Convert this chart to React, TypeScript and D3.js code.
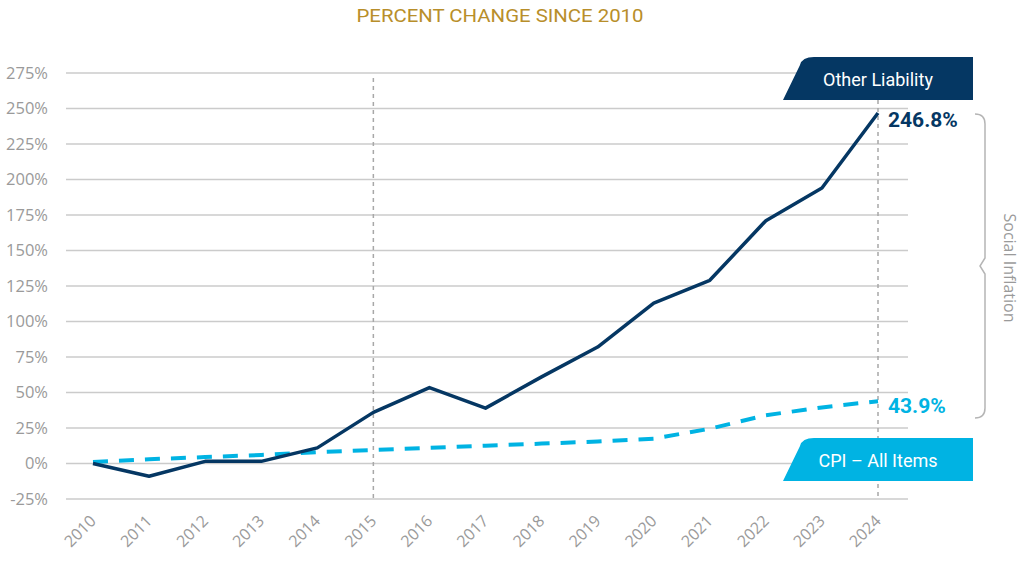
import React from "react";
import * as d3 from "d3";

const years = ["2010","2011","2012","2013","2014","2015","2016","2017","2018","2019","2020","2021","2022","2023","2024"];
const otherLiability = [0, -9, 1.5, 1.5, 11, 36, 53.5, 39, 61, 82, 113, 129, 171, 194, 246.8];
const cpi = [1, 3, 4.5, 6, 8, 9.5, 11, 12.5, 14, 15.5, 17.5, 24.5, 34, 39.5, 43.9];
const yTicks = [-25, 0, 25, 50, 75, 100, 125, 150, 175, 200, 225, 250, 275];
const markerYears = ["2015", "2024"];

const W = 1024, H = 576;
const FONT = "'Open Sans', 'Noto Sans', sans-serif";
const NAVY = "#053763";
const CYAN = "#00b3e3";
const GRID = "#cbcbcb";
const LABEL = "#9a9a9a";

export default function App() {
  const x = d3.scalePoint<string>().domain(years).range([93, 878]);
  const y = d3.scaleLinear().domain([-25, 275]).range([499, 73]);
  const line = d3.line<number>().x((_, i) => x(years[i])!).y((d) => y(d));

  const lastX = x("2024")!;
  const tagPath = (top: number, bottom: number) => {
    const left = 783, right = 973, r = 8;
    const slantTop = 802;
    return `M${left},${bottom} L${slantTop - 2},${top + r} Q${slantTop},${top} ${slantTop + r + 4},${top} L${right},${top} L${right},${bottom} Z`;
  };

  const bx = 985, bTop = 114, bBot = 418, bMid = 266;
  const bracePath = `M975,${bTop} Q${bx},${bTop} ${bx},${bTop + 10} L${bx},${bMid - 8} L${bx - 5},${bMid} L${bx},${bMid + 8} L${bx},${bBot - 10} Q${bx},${bBot} 975,${bBot}`;

  return (
    <svg width={W} height={H} style={{ position: "absolute", left: 0, top: 0, background: "#fff" }} fontFamily={FONT}>
      <text x={500} y={22} textAnchor="middle" fill="#b88e2a" fontSize={19} fontFamily="'Roboto', sans-serif" textLength={287} lengthAdjust="spacingAndGlyphs">PERCENT CHANGE SINCE 2010</text>

      {yTicks.map((t) => (
        <g key={t}>
          <line x1={66} x2={908} y1={y(t)} y2={y(t)} stroke={GRID} strokeWidth={1.5} />
          <text x={48} y={y(t)} dy="0.35em" textAnchor="end" fill={LABEL} fontSize={16.5} fontWeight={400}>{`${t}%`}</text>
        </g>
      ))}

      {markerYears.map((yr) => (
        <line key={yr} x1={x(yr)} x2={x(yr)} y1={yr === "2015" ? 78 : 100} y2={499} stroke="#a8a8a8" strokeWidth={1.5} strokeDasharray="4,4" />
      ))}

      {years.map((yr) => (
        <text key={yr} transform={`translate(${x(yr)! + 4},${522}) rotate(-45)`} textAnchor="end" fill={LABEL} fontSize={16} fontWeight={400}>{yr}</text>
      ))}

      <path d={line(cpi)!} fill="none" stroke={CYAN} strokeWidth={4} strokeDasharray="15,11" />
      <path d={line(otherLiability)!} fill="none" stroke={NAVY} strokeWidth={3.5} strokeLinejoin="round" />

      <path d={tagPath(57, 100)} fill={NAVY} />
      <text x={878} y={86} textAnchor="middle" fill="#fff" fontSize={18} fontFamily="'Roboto', sans-serif">Other Liability</text>
      <path d={tagPath(438, 481)} fill={CYAN} />
      <text x={878} y={467} textAnchor="middle" fill="#fff" fontSize={18} fontFamily="'Roboto', sans-serif">CPI – All Items</text>

      <text x={lastX + 10} y={y(246.8) + 14} fill={NAVY} fontSize={21} fontWeight={700} fontFamily="'Roboto', sans-serif">246.8%</text>
      <text x={lastX + 10} y={y(43.9) + 12} fill={CYAN} fontSize={21} fontWeight={700} fontFamily="'Roboto', sans-serif">43.9%</text>

      <path d={bracePath} fill="none" stroke="#b5b5b5" strokeWidth={1.5} />
      <text transform={`translate(1004,268) rotate(90)`} textAnchor="middle" fill={LABEL} fontSize={16} fontWeight={400}>Social Inflation</text>
    </svg>
  );
}
